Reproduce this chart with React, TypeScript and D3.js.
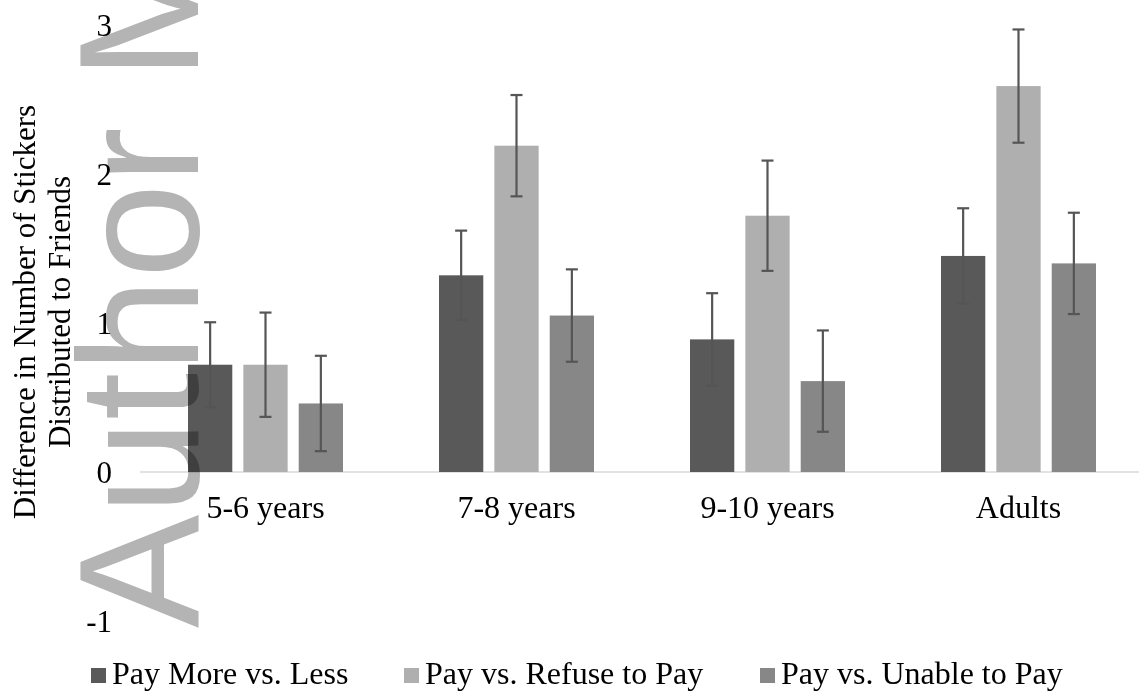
import React from 'react';
import * as d3 from 'd3';

const categories = ['5-6 years', '7-8 years', '9-10 years', 'Adults'];
const seriesNames = ['Pay More vs. Less', 'Pay vs. Refuse to Pay', 'Pay vs. Unable to Pay'];
const seriesColors = ['#595959', '#afafaf', '#878787'];

const payMoreVsLess = [0.72, 1.32, 0.89, 1.45];
const payMoreVsLessErr = [0.285, 0.3, 0.31, 0.32];
const payVsRefuse = [0.72, 2.19, 1.72, 2.59];
const payVsRefuseErr = [0.35, 0.34, 0.37, 0.38];
const payVsUnable = [0.46, 1.05, 0.61, 1.4];
const payVsUnableErr = [0.32, 0.31, 0.34, 0.34];

const yTicks = [-1, 0, 1, 2, 3];

const W = 1139;
const H = 696;
const serif = '"Liberation Serif", "Times New Roman", serif';

const App = () => {
  const values = [payMoreVsLess, payVsRefuse, payVsUnable];
  const errors = [payMoreVsLessErr, payVsRefuseErr, payVsUnableErr];

  const x0 = d3.scaleBand().domain(categories).range([140, 1144]).padding(0);
  const x1 = d3.scaleBand<number>().domain([0, 1, 2]).range([48, 203]).paddingInner(0.2);
  const y = d3.scaleLinear().domain([-1, 3]).range([621, 25]);

  const legendX = [91, 404, 760];

  return (
    <div style={{ position: 'absolute', left: 0, top: 0 }}>
      <svg width={W} height={H} style={{ display: 'block', background: '#fff' }}>
        {/* zero line */}
        <line x1={140} x2={W} y1={y(0)} y2={y(0)} stroke="#d9d9d9" strokeWidth={1.5} />

        {/* bars */}
        {categories.map((c, ci) => (
          <g key={c} transform={`translate(${x0(c)},0)`}>
            {values.map((vals, si) => (
              <rect
                key={si}
                x={x1(si)}
                y={y(vals[ci])}
                width={x1.bandwidth()}
                height={y(0) - y(vals[ci])}
                fill={seriesColors[si]}
              />
            ))}
            {values.map((vals, si) => {
              const cx = (x1(si) as number) + x1.bandwidth() / 2;
              const hi = y(vals[ci] + errors[si][ci]);
              const lo = y(vals[ci] - errors[si][ci]);
              return (
                <g key={'e' + si} stroke="#555" strokeWidth={2.2}>
                  <line x1={cx} x2={cx} y1={hi} y2={lo} />
                  <line x1={cx - 6} x2={cx + 6} y1={hi} y2={hi} />
                  <line x1={cx - 6} x2={cx + 6} y1={lo} y2={lo} />
                </g>
              );
            })}
          </g>
        ))}

        {/* y tick labels */}
        {yTicks.map(t => (
          <text key={t} x={112} y={y(t)} dy="0.35em" textAnchor="end" fontFamily={serif} fontSize={31} fill="#000">
            {t}
          </text>
        ))}

        {/* category labels */}
        {categories.map(c => (
          <text key={c} x={(x0(c) as number) + x0.bandwidth() / 2} y={518} textAnchor="middle" fontFamily={serif} fontSize={32} fill="#000">
            {c}
          </text>
        ))}

        {/* y axis title */}
        <text transform="translate(0,312) rotate(-90)" textAnchor="middle" fontFamily={serif} fontSize={31} fill="#000">
          <tspan x={0} y={35}>Difference in Number of Stickers</tspan>
          <tspan x={0} y={70}>Distributed to Friends</tspan>
        </text>

        {/* legend */}
        {seriesNames.map((s, i) => (
          <g key={s}>
            <rect x={legendX[i]} y={668} width={15} height={15} fill={seriesColors[i]} />
            <text x={legendX[i] + 21} y={684} fontFamily={serif} fontSize={32} fill="#000">
              {s}
            </text>
          </g>
        ))}

        {/* watermark */}
        <text
          transform="translate(198,628) rotate(-90)"
          fontFamily='"Liberation Sans", Arial, sans-serif'
          fontSize={170}
          fill="#b4b4b4"
          style={{ mixBlendMode: 'multiply' }}
        >
          Author Manuscript
        </text>
      </svg>
    </div>
  );
};

export default App;
